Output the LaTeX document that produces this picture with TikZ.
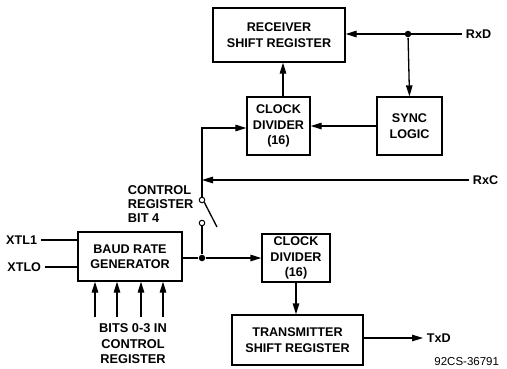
\documentclass[tikz,border=0pt]{standalone}
\usepackage{fontspec}
\setmainfont{Liberation Sans}
\usetikzlibrary{arrows.meta}

\begin{document}
\begin{tikzpicture}[x=1pt, y=-1pt, line width=1.3pt,
    font=\fontsize{12.6}{15.5}\selectfont\bfseries,
    block/.style={draw, align=center, inner sep=0pt},
    arr/.style={-{Triangle[length=11pt, width=6.5pt]}},
    junction/.style={circle, fill, inner sep=0pt, minimum size=6.5pt},
    contact/.style={circle, draw, line width=1pt, inner sep=0pt, minimum size=5.5pt}]
    \useasboundingbox (0,0) rectangle (507,368);

    % Receiver side
    \node[block, minimum width=132pt, minimum height=54pt] (recv) at (279, 35) {RECEIVER\\SHIFT REGISTER};
    \node[block, minimum width=63pt, minimum height=58pt] (clkrx) at (278.5, 126) {CLOCK\\DIVIDER\\(16)};
    \node[block, minimum width=65pt, minimum height=58pt] (sync) at (409.5, 126) {SYNC\\LOGIC};
    \node[anchor=west] (rxd) at (462, 34) {RxD};
    \node[junction] (dotrx) at (408, 34) {};
    \draw[arr] (rxd.west) -- (recv.east |- rxd.west);
    \draw[arr] (dotrx) -- (sync.north);
    \draw[arr] (sync.west) -- (clkrx.east);
    \draw[arr] (clkrx.north -| recv.south) ++(4,0) -- ([xshift=4pt]recv.south);

    % Clock select switch
    \node[anchor=west] (rxc) at (469, 180) {RxC};
    \node[contact] (swtop) at (202, 200) {};
    \node[contact] (swbot) at (202, 223) {};
    \coordinate (blade) at (217, 227);
    \coordinate (tap) at (202, 180);
    \draw[arr] (swtop.north) -- (202, 128) -- (clkrx.west |- 0,128);
    \draw[arr] (rxc.west) -- (tap);
    \draw (swtop.south east) -- (blade);
    \node[anchor=west, align=left, font=\fontsize{12.8}{14}\selectfont\bfseries] (ctrl) at (124, 204) {CONTROL\\REGISTER\\BIT 4};

    % Transmitter side
    \node[block, minimum width=104pt, minimum height=49pt] (baud) at (130, 256.5) {BAUD RATE\\GENERATOR};
    \node[block, minimum width=68pt, minimum height=48pt] (clktx) at (296, 258) {CLOCK\\DIVIDER\\(16)};
    \node[block, minimum width=131pt, minimum height=50pt] (tx) at (297.5, 340) {TRANSMITTER\\SHIFT REGISTER};
    \node[junction] (dottx) at (202, 258) {};
    \draw (swbot.south) -- (dottx);
    \draw (baud.east |- dottx) -- (dottx);
    \draw[arr] (dottx) -- (clktx.west);
    \draw[arr] (clktx.south) -- (tx.north -| clktx.south);
    \node[anchor=west] (txd) at (423, 338) {TxD};
    \draw[arr] (tx.east |- txd.west) -- (txd.west);

    % Crystal and rate select inputs
    \node[anchor=east] (xtla) at (41, 240) {XTL1};
    \node[anchor=east] (xtlb) at (45, 267) {XTLO};
    \draw (xtla.east) -- (baud.west |- xtla.east);
    \draw (xtlb.east) -- (baud.west |- xtlb.east);
    \node[align=center, anchor=north, font=\fontsize{12.8}{15.5}\selectfont\bfseries] (bits) at (133, 320) {BITS 0-3 IN\\CONTROL\\REGISTER};
    \foreach \x in {95, 117, 141, 163}
        \draw[arr] (\x, 317) -- (\x, 0 |- baud.south);

    \node[anchor=east, font=\fontsize{11.5}{13}\selectfont] (fig) at (503, 362) {92CS-36791};
\end{tikzpicture}
\end{document}
